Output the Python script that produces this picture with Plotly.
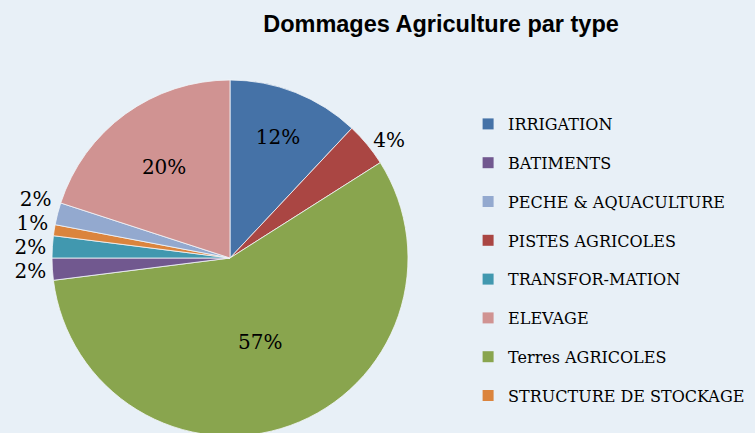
import plotly.graph_objects as go

# slice order (clockwise from 12 o'clock)
slice_labels = ["IRRIGATION", "PISTES AGRICOLES", "Terres AGRICOLES", "BATIMENTS",
                "TRANSFOR-MATION", "STRUCTURE DE STOCKAGE", "PECHE & AQUACULTURE", "ELEVAGE"]
slice_values = [12, 4, 57, 2, 2, 1, 2, 20]
slice_colors = ["#4572A7", "#AA4643", "#89A54E", "#71588F",
                "#4198AF", "#DB843D", "#93A9CF", "#D09392"]
slice_textpos = ["inside", "outside", "inside", "outside",
                 "outside", "outside", "outside", "inside"]

# legend order
legend_labels = ["IRRIGATION", "BATIMENTS", "PECHE & AQUACULTURE", "PISTES AGRICOLES",
                 "TRANSFOR-MATION", "ELEVAGE", "Terres AGRICOLES", "STRUCTURE DE STOCKAGE"]

title_text = "Dommages Agriculture par type"
bg = "#E8F0F7"
serif = "DejaVu Serif"
W, H = 755, 460

color_of = dict(zip(slice_labels, slice_colors))

fig = go.Figure()
fig.add_trace(go.Pie(
    labels=slice_labels, values=slice_values, sort=False, direction="clockwise",
    rotation=0, marker=dict(colors=slice_colors, line=dict(color="#F2F6FA", width=0.8)),
    texttemplate="%{percent:.0%}", textposition=slice_textpos,
    textfont=dict(family=serif, size=20, color="#000000"),
    showlegend=False, hoverinfo="label+percent",
    domain=dict(x=[52/W, 408/W], y=[(H-436)/H, (H-80)/H]),
))
for i, lab in enumerate(legend_labels):
    fig.add_trace(go.Scatter(
        x=[None], y=[None], mode="markers", name=lab, legendgroup=f"g{i}",
        marker=dict(symbol="square", size=11, color=color_of[lab]),
    ))

fig.update_layout(
    width=W, height=H, autosize=False,
    paper_bgcolor=bg, plot_bgcolor=bg,
    margin=dict(l=0, r=0, t=0, b=0),
    title=dict(text=title_text, x=441/W, xanchor="center", y=1 - 24/H, yanchor="middle",
               font=dict(family="Liberation Sans", size=23.5, color="#000000", weight="bold")),
    xaxis=dict(visible=False), yaxis=dict(visible=False),
    legend=dict(x=0.62, xanchor="left", y=1 - 107/H, yanchor="top",
                font=dict(family=serif, size=16, color="#000000"),
                bgcolor="rgba(0,0,0,0)", tracegroupgap=15, traceorder="grouped",
                itemwidth=30),
    showlegend=True,
)
fig.write_html(
    "out.html",
    config={"displayModeBar": False},
    post_script=("document.body.style.margin='0';document.body.style.overflow='hidden';"
                 "document.querySelectorAll('.textline').forEach(function(e){e.style.display='none';});"),
)
